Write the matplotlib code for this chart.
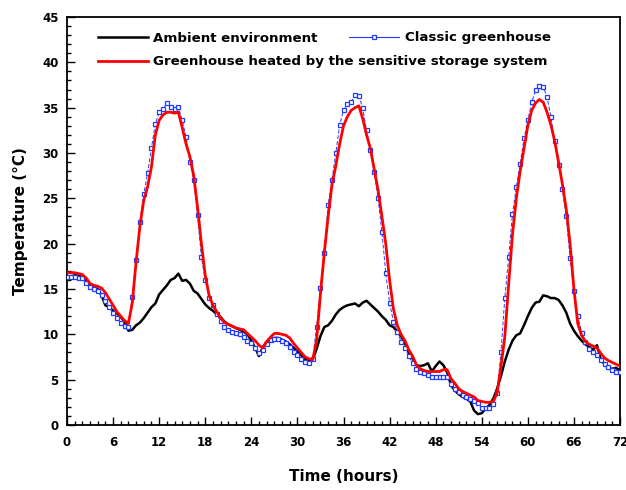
import numpy as np
import matplotlib
matplotlib.use("Agg")
import matplotlib.pyplot as plt
from matplotlib.lines import Line2D
from matplotlib.ticker import MultipleLocator

time_h = np.arange(0, 72.5, 0.5)

ambient = [16.8, 16.8, 16.7, 16.5, 16.3, 15.9, 15.5, 15.2, 15.0, 14.3, 13.2, 13.0, 12.6, 12.3, 11.9, 11.4,
           10.4, 10.5, 11.0, 11.3, 11.8, 12.4, 13.0, 13.4, 14.4, 14.9, 15.4, 16.0, 16.2, 16.7, 15.9, 16.0,
           15.6, 14.8, 14.5, 13.9, 13.3, 12.9, 12.6, 12.2, 11.9, 11.4, 11.1, 10.9, 10.7, 10.5, 10.3, 10.0,
           9.3, 8.5, 7.6, 8.6, 9.2, 9.5, 9.6, 9.6, 9.4, 9.2, 8.9, 8.5, 8.1, 7.7, 7.3, 7.0,
           7.2, 8.4, 9.8, 10.8, 11.0, 11.5, 12.2, 12.7, 13.0, 13.2, 13.3, 13.4, 13.1, 13.5, 13.7, 13.3,
           12.9, 12.5, 12.0, 11.6, 11.0, 10.8, 10.3, 9.8, 9.0, 8.0, 7.3, 6.6, 6.5, 6.6, 6.8, 5.9,
           6.5, 7.0, 6.6, 5.8, 4.4, 3.8, 3.4, 3.1, 2.9, 2.6, 1.6, 1.2, 1.3, 1.8, 2.2, 2.9,
           4.0, 5.4, 7.0, 8.3, 9.3, 9.9, 10.1, 11.0, 12.0, 12.9, 13.5, 13.6, 14.3, 14.2, 14.0, 14.0,
           13.8, 13.2, 12.4, 11.2, 10.4, 9.8, 9.3, 8.9, 8.6, 8.3, 8.8, 7.2, 6.7, 6.3, 6.2, 6.3,
           6.0]

classic = [16.3, 16.3, 16.3, 16.2, 16.2, 15.7, 15.2, 15.0, 14.8, 14.3, 13.7, 13.0, 12.4, 11.8, 11.2, 10.9,
           10.8, 14.1, 18.2, 22.4, 25.5, 27.8, 30.6, 33.2, 34.5, 34.8, 35.5, 35.1, 34.8, 35.1, 33.6, 31.8,
           29.0, 27.0, 23.2, 18.5, 16.0, 14.0, 13.2, 12.2, 11.5, 10.8, 10.5, 10.3, 10.1, 10.0, 9.7, 9.3,
           9.0, 8.5, 7.9, 8.3, 8.9, 9.4, 9.5, 9.5, 9.3, 9.0, 8.6, 8.1, 7.7, 7.3, 7.0, 6.8,
           7.3, 10.8, 15.1, 19.0, 24.3, 27.0, 30.0, 33.1, 34.7, 35.4, 35.6, 36.4, 36.3, 35.0, 32.5, 30.3,
           27.9, 25.0, 21.3, 16.8, 13.5, 11.4, 10.3, 9.2, 8.5, 7.6, 6.8, 6.2, 5.9, 5.7, 5.5, 5.3,
           5.3, 5.3, 5.3, 5.3, 4.5, 4.0, 3.6, 3.3, 3.1, 2.9, 2.7, 2.4, 1.9, 1.9, 1.9, 2.3,
           3.5, 8.0, 14.0, 18.5, 23.3, 26.2, 28.8, 31.6, 33.6, 35.6, 36.9, 37.4, 37.3, 36.2, 34.0, 31.3,
           28.7, 26.0, 23.0, 18.4, 14.8, 12.0, 10.2, 9.2, 8.4, 8.1, 7.7, 7.2, 6.7, 6.4, 6.1, 5.9,
           5.8]

heated = [16.8, 16.8, 16.8, 16.7, 16.6, 16.2, 15.6, 15.4, 15.3, 15.1, 14.6, 13.9, 13.2, 12.5, 12.0, 11.5,
          11.2, 13.5, 18.0, 22.0, 24.8, 26.3, 28.5, 32.0, 33.6, 34.2, 34.5, 34.5, 34.4, 34.5, 32.8, 31.0,
          29.6, 27.5, 24.0, 20.0, 16.5, 14.3, 13.2, 12.5, 11.8, 11.3, 11.1, 10.9, 10.7, 10.6, 10.5, 10.1,
          9.7, 9.3, 8.8, 8.5, 9.2, 9.7, 10.1, 10.1, 10.0, 9.9, 9.6, 9.0, 8.5, 8.0, 7.5, 7.3,
          7.2, 9.4, 14.5, 19.0, 23.0, 26.5, 28.6, 31.0, 33.0, 34.0, 34.7, 35.0, 35.2, 33.8, 32.0, 30.5,
          28.2, 25.9, 23.0, 20.0, 16.0, 12.8, 11.0, 10.0, 9.3, 8.3, 7.6, 6.6, 6.2, 6.0, 5.9, 5.9,
          5.9, 5.9, 6.1, 6.1, 5.1, 4.6, 4.0, 3.7, 3.5, 3.3, 3.1, 2.7, 2.6, 2.5, 2.5, 2.6,
          3.5, 6.5, 9.7, 15.5, 21.0, 25.0, 28.0, 30.5, 33.0, 34.7, 35.5, 35.9, 35.6, 34.5, 33.1, 31.3,
          29.0, 26.6, 23.8, 20.0, 15.0, 11.2, 9.9, 9.2, 8.9, 8.7, 8.5, 7.9, 7.4, 7.1, 6.9, 6.7,
          6.5]

x_ticks = list(range(0, 73, 6))
y_ticks = list(range(0, 46, 5))
labels = ["Ambient environment", "Classic greenhouse", "Greenhouse heated by the sensitive storage system"]

plt.rcParams['font.family'] = ['DejaVu Sans']
plt.rcParams['font.weight'] = 'bold'

fig = plt.figure(figsize=(6.26, 4.90), dpi=100)
ax = fig.add_axes([67/626, 1-425/490, (620-67)/626, (425-17)/490])

blue = '#1f3cff'
ax.plot(time_h, ambient, color='black', lw=1.8, zorder=2)
ax.plot(time_h, classic, color=blue, lw=0.7, ls=(0, (4, 2)), marker='s', markersize=3.5,
        markerfacecolor='white', markeredgecolor=blue, markeredgewidth=0.9, zorder=3)
ax.plot(time_h, heated, color='#ff0000', lw=2.0, zorder=4)

ax.set_xlim(0, 72)
ax.set_ylim(0, 45)
ax.set_xticks(x_ticks)
ax.set_yticks(y_ticks)
ax.xaxis.set_minor_locator(MultipleLocator(1))
ax.yaxis.set_minor_locator(MultipleLocator(1))
ax.tick_params(which='both', direction='in', top=False, right=False, labelsize=8.5, width=1)
ax.tick_params(which='major', length=6)
ax.tick_params(which='minor', length=3)
for lab in ax.get_xticklabels() + ax.get_yticklabels():
    lab.set_fontweight('bold')
ax.tick_params(axis='x', pad=8)
ax.tick_params(axis='y', pad=6)
for s in ax.spines.values():
    s.set_linewidth(1.3)

ax.set_xlabel("Time (hours)", fontsize=11, fontweight='bold', labelpad=14)
ax.set_ylabel("Temperature (°C)", fontsize=11, fontweight='bold', labelpad=10)

h_amb = Line2D([], [], color='black', lw=1.8)
h_cls = Line2D([], [], color=blue, lw=0.8, marker='s', markersize=3.5,
               markerfacecolor='white', markeredgecolor=blue, markeredgewidth=0.9)
h_hea = Line2D([], [], color='#ff0000', lw=2.0)

leg_kw = dict(frameon=False, handlelength=3.75, handletextpad=0.38, borderpad=0, borderaxespad=0,
              prop={'size': 9.6, 'weight': 'bold'})
leg1 = fig.legend([h_amb, h_cls], labels[:2], ncol=2, columnspacing=2.4, loc='center left',
                  bbox_to_anchor=(98/626, 1-38/490), **leg_kw)
leg2 = fig.legend([h_hea], labels[2:], loc='center left',
                  bbox_to_anchor=(98/626, 1-62/490), **leg_kw)

fig.savefig("out.png", dpi=100)
